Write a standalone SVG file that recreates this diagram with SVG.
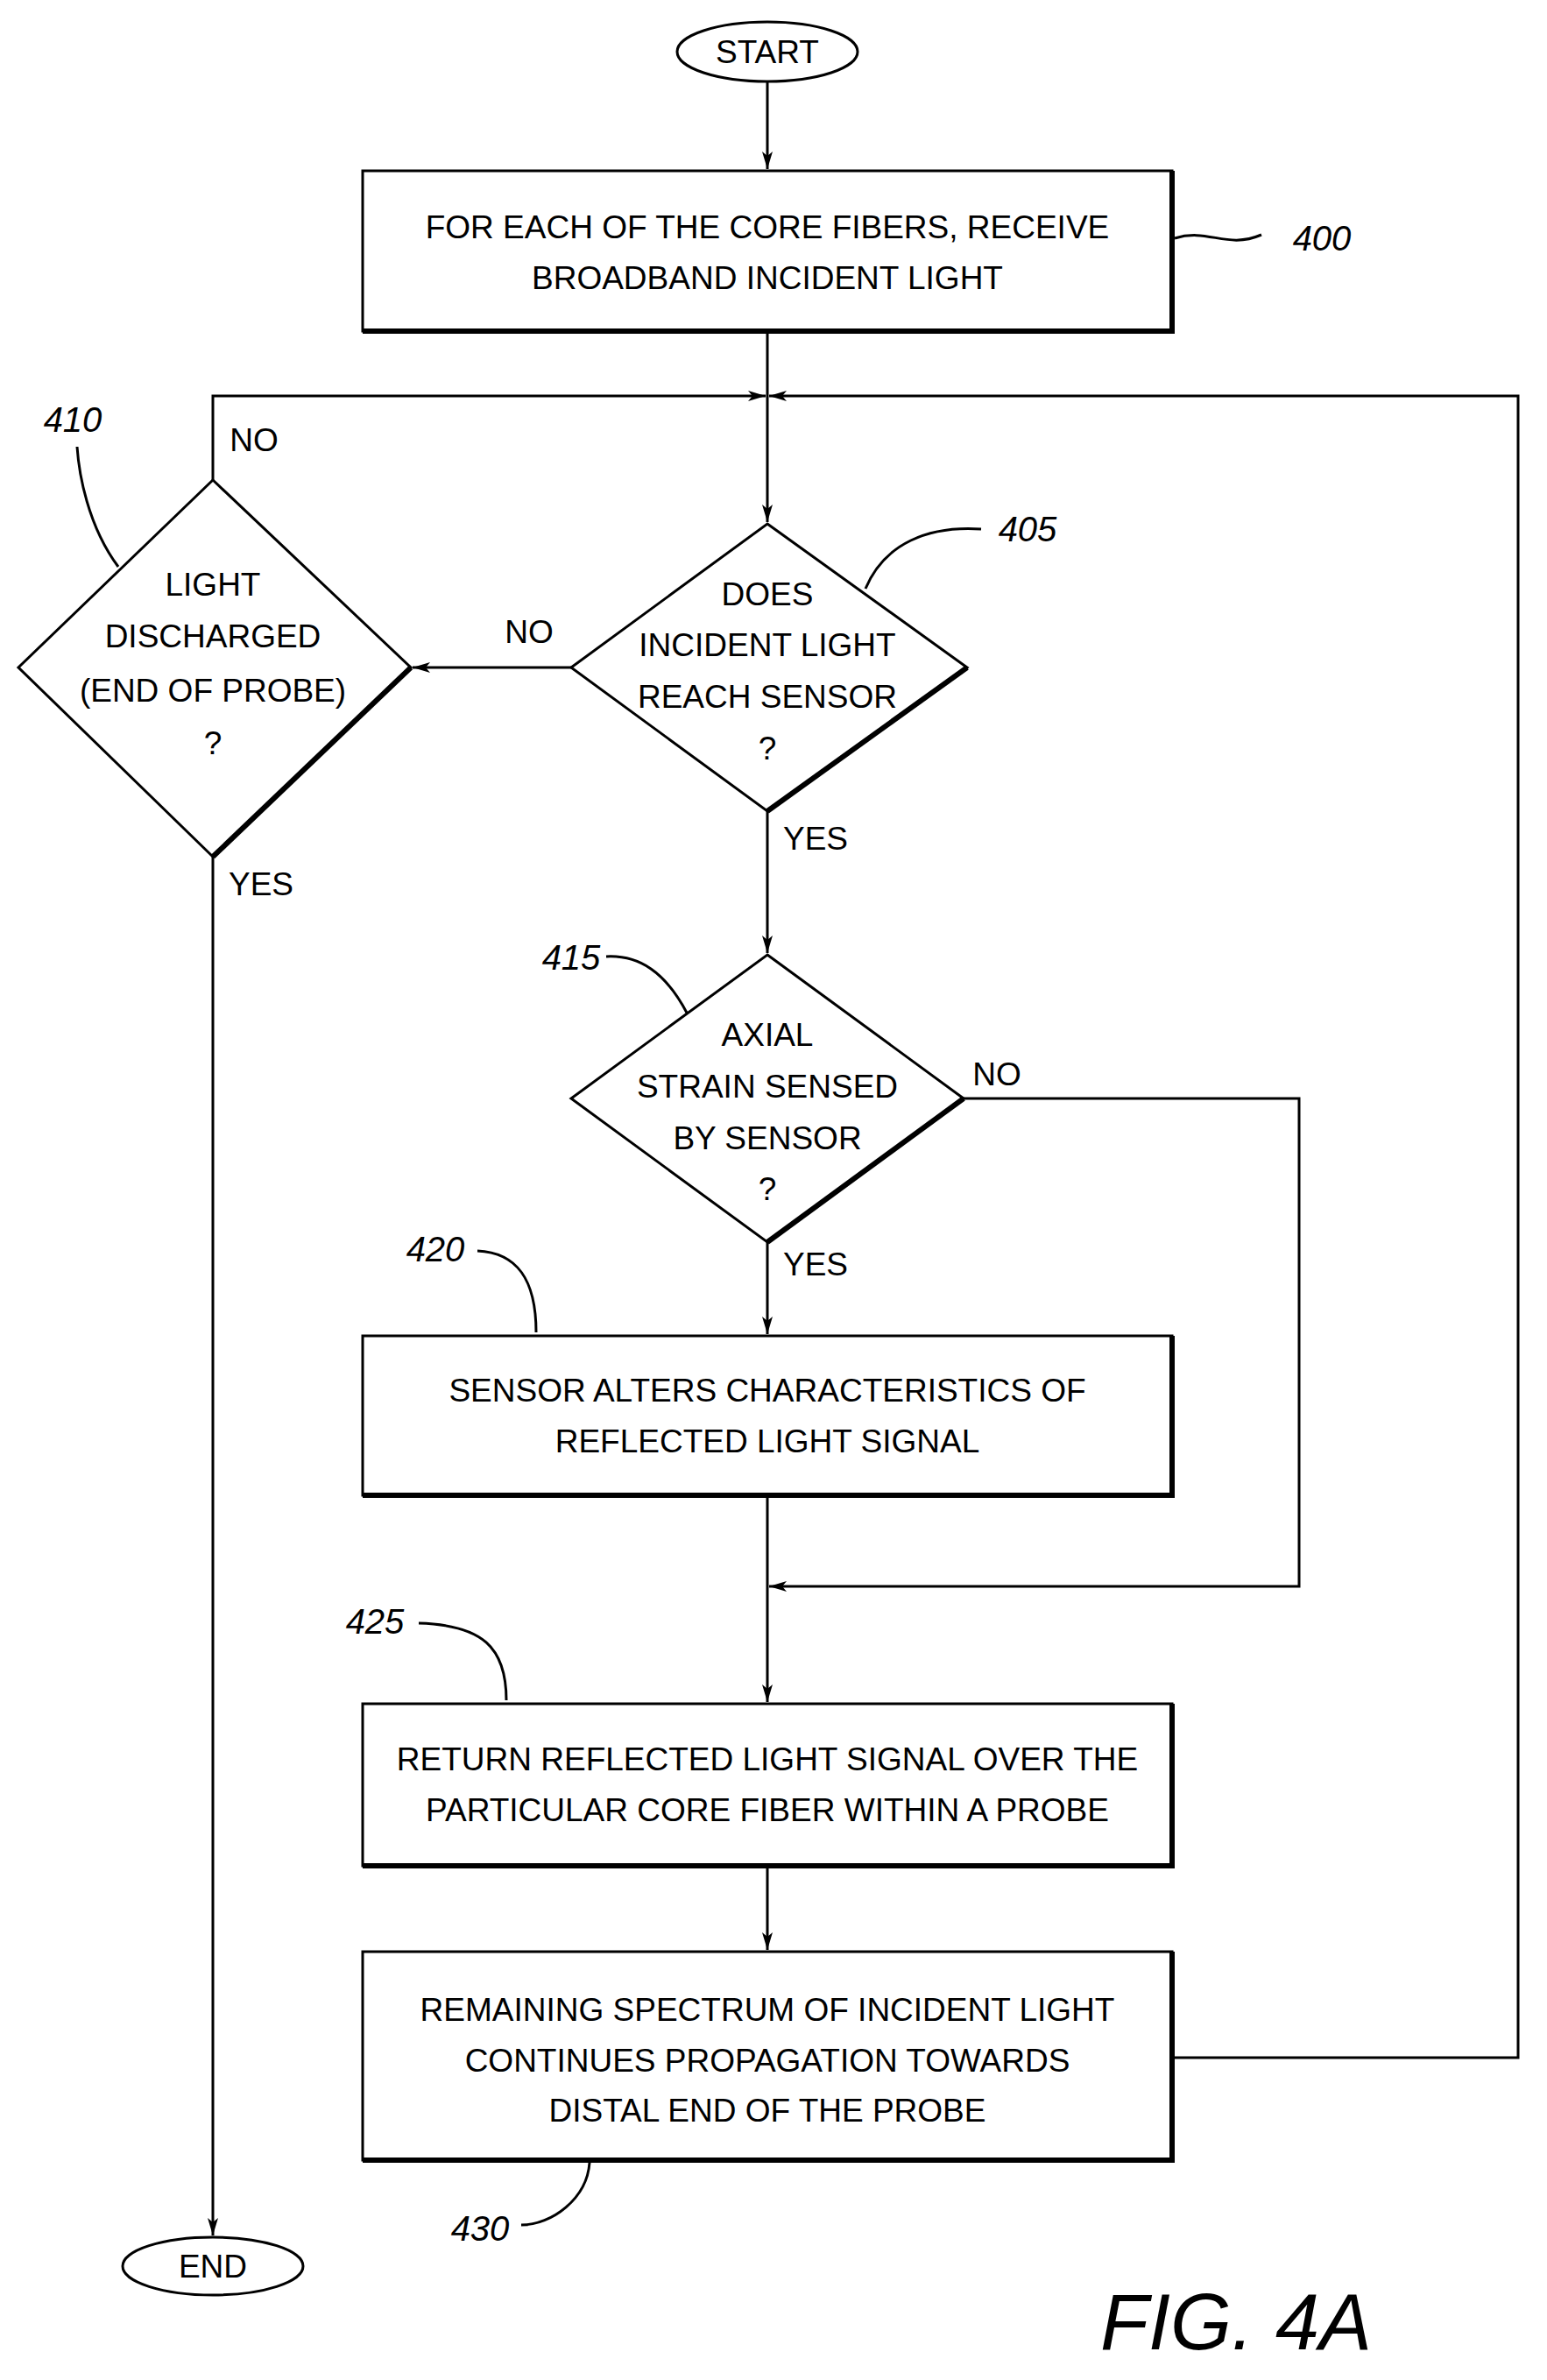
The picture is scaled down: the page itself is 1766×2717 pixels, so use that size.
<svg xmlns="http://www.w3.org/2000/svg" width="1766" height="2717" viewBox="0 0 1766 2717">
<style>
.b{fill:#fff;stroke:#000;stroke-width:3}
.sh{fill:none;stroke:#000;stroke-width:6}
.l{fill:none;stroke:#000;stroke-width:3}
.t{font-family:"Liberation Sans",Arial,sans-serif;font-size:37px;text-anchor:middle;fill:#000}
.r{font-family:"Liberation Sans",Arial,sans-serif;font-size:40px;font-style:italic;text-anchor:middle;fill:#000}
</style>
<defs>
<marker id="a" viewBox="0 0 20 12" refX="20" refY="6" markerWidth="20" markerHeight="12" markerUnits="userSpaceOnUse" orient="auto">
<path d="M0,0 L20,6 L0,12 L5,6 Z" fill="#000"/>
</marker>
</defs>
<rect width="1766" height="2717" fill="#fff"/>
<g id="connectors">
<line class="l" x1="876" y1="93" x2="876" y2="193" marker-end="url(#a)"/>
<line class="l" x1="876" y1="381" x2="876" y2="596" marker-end="url(#a)"/>
<polyline class="l" points="243,548 243,452 874,452" marker-end="url(#a)"/>
<polyline class="l" points="1341,2349 1733,2349 1733,452 878,452" marker-end="url(#a)"/>
<line class="l" x1="652" y1="762" x2="471" y2="762" marker-end="url(#a)"/>
<line class="l" x1="243" y1="978" x2="243" y2="2552" marker-end="url(#a)"/>
<line class="l" x1="876" y1="926" x2="876" y2="1088" marker-end="url(#a)"/>
<line class="l" x1="876" y1="1418" x2="876" y2="1523" marker-end="url(#a)"/>
<line class="l" x1="876" y1="1710" x2="876" y2="1943" marker-end="url(#a)"/>
<polyline class="l" points="1100,1254 1483,1254 1483,1811 878,1811" marker-end="url(#a)"/>
<line class="l" x1="876" y1="2133" x2="876" y2="2226" marker-end="url(#a)"/>
<path class="l" d="M1341,272 C1380,260 1400,285 1440,268"/>
<path class="l" d="M988,672 C1010,620 1060,600 1120,604"/>
<path class="l" d="M135,647 C100,600 90,540 88,510"/>
<path class="l" d="M785,1158 C760,1110 730,1090 692,1092"/>
<path class="l" d="M612,1521 C612,1460 590,1430 545,1428"/>
<path class="l" d="M578,1941 C578,1880 550,1855 478,1853"/>
<path class="l" d="M673,2469 C670,2510 630,2540 595,2540"/>
</g>
<g id="start"><ellipse class="b" cx="876" cy="59" rx="103" ry="34"/><text class="t" x="876" y="72">START</text></g>
<g id="n400"><rect class="b" x="414" y="195" width="924" height="183"/><polyline class="sh" points="1338,195 1338,378 414,378"/>
<text class="t" x="876" y="272">FOR EACH OF THE CORE FIBERS, RECEIVE</text><text class="t" x="876" y="330">BROADBAND INCIDENT LIGHT</text><text class="r" x="1509" y="286">400</text></g>
<g id="n405"><polygon class="b" points="876,598 1104,762 876,926 652,762"/><polyline class="sh" points="1104,762 876,926"/>
<text class="t" x="876" y="691">DOES</text><text class="t" x="876" y="749">INCIDENT LIGHT</text><text class="t" x="876" y="808">REACH SENSOR</text><text class="t" x="876" y="867">?</text><text class="r" x="1173" y="618">405</text>
<text class="t" x="604" y="734">NO</text><text class="t" x="931" y="970">YES</text></g>
<g id="n410"><polygon class="b" points="243,548 469,762 243,978 21,762"/><polyline class="sh" points="469,762 243,978"/>
<text class="t" x="243" y="680">LIGHT</text><text class="t" x="243" y="739">DISCHARGED</text><text class="t" x="243" y="801">(END OF PROBE)</text><text class="t" x="243" y="861">?</text><text class="r" x="83" y="493">410</text>
<text class="t" x="290" y="515">NO</text><text class="t" x="298" y="1022">YES</text></g>
<g id="n415"><polygon class="b" points="876,1090 1100,1254 876,1418 652,1254"/><polyline class="sh" points="1100,1254 876,1418"/>
<text class="t" x="876" y="1194">AXIAL</text><text class="t" x="876" y="1253">STRAIN SENSED</text><text class="t" x="876" y="1312">BY SENSOR</text><text class="t" x="876" y="1370">?</text><text class="r" x="652" y="1107">415</text>
<text class="t" x="1138" y="1239">NO</text><text class="t" x="931" y="1456">YES</text></g>
<g id="n420"><rect class="b" x="414" y="1525" width="924" height="182"/><polyline class="sh" points="1338,1525 1338,1707 414,1707"/>
<text class="t" x="876" y="1600">SENSOR ALTERS CHARACTERISTICS OF</text><text class="t" x="876" y="1658">REFLECTED LIGHT SIGNAL</text><text class="r" x="497" y="1440">420</text></g>
<g id="n425"><rect class="b" x="414" y="1945" width="924" height="185"/><polyline class="sh" points="1338,1945 1338,2130 414,2130"/>
<text class="t" x="876" y="2021">RETURN REFLECTED LIGHT SIGNAL OVER THE</text><text class="t" x="876" y="2079">PARTICULAR CORE FIBER WITHIN A PROBE</text><text class="r" x="428" y="1865">425</text></g>
<g id="n430"><rect class="b" x="414" y="2228" width="924" height="238"/><polyline class="sh" points="1338,2228 1338,2466 414,2466"/>
<text class="t" x="876" y="2307">REMAINING SPECTRUM OF INCIDENT LIGHT</text><text class="t" x="876" y="2365">CONTINUES PROPAGATION TOWARDS</text><text class="t" x="876" y="2422">DISTAL END OF THE PROBE</text><text class="r" x="548" y="2558">430</text></g>
<g id="end"><ellipse class="b" cx="243" cy="2587" rx="103" ry="33"/><text class="t" x="243" y="2600">END</text></g>
<text class="r" x="1411" y="2682" style="font-size:90px">FIG. 4A</text>
</svg>
